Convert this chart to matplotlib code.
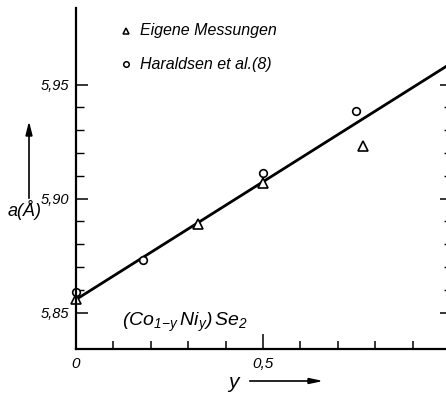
import numpy as np
import matplotlib.pyplot as plt
from matplotlib.ticker import FixedLocator, NullFormatter

# Lattice constant a of (Co1-y Ni y)Se2 against Ni fraction y
y_own = [0.0, 0.326, 0.50, 0.767]
a_own = [5.856, 5.889, 5.907, 5.923]

y_har = [0.0, 0.179, 0.50, 0.749]
a_har = [5.859, 5.873, 5.911, 5.9385]

# fitted straight line (end points)
y_fit = [0.0, 1.0]
a_fit = [5.8557, 5.959]

y_major = [0.0, 0.5]
y_major_labels = ['0', '0,5']
y_minor = [0.1, 0.2, 0.3, 0.4, 0.6, 0.7, 0.8, 0.9]
a_major = [5.85, 5.90, 5.95]
a_major_labels = ['5,85', '5,90', '5,95']
a_minor = [5.86, 5.87, 5.88, 5.89, 5.91, 5.92, 5.93, 5.94]

fam = ['Liberation Sans', 'DejaVu Sans']
plt.rcParams['font.family'] = fam
plt.rcParams['font.style'] = 'italic'
plt.rcParams['mathtext.fontset'] = 'custom'
plt.rcParams['mathtext.it'] = 'Liberation Sans:italic'
plt.rcParams['mathtext.rm'] = 'Liberation Sans:italic'

fig = plt.figure(figsize=(4.46, 3.93), dpi=100)
ax = fig.add_axes([76 / 446, 44 / 393, 372 / 446, 341 / 393])
ax.set_xlim(0, 372 / 374)
ax.set_ylim(5.834, 5.834 + 341 / 2280)

ax.plot(y_fit, a_fit, color='black', lw=2.0, clip_on=True)
ax.plot(y_own, a_own, ls='none', marker='^', ms=7, mfc='white', mec='black', mew=1.2, clip_on=False)
ax.plot(y_har, a_har, ls='none', marker='o', ms=5.5, mfc='white', mec='black', mew=1.2, clip_on=False)

for side in ['top', 'right']:
    ax.spines[side].set_visible(False)
for side in ['left', 'bottom']:
    ax.spines[side].set_linewidth(1.6)

# x axis ticks point inward (up)
ax.xaxis.set_major_locator(FixedLocator(y_major))
ax.xaxis.set_minor_locator(FixedLocator(y_minor))
ax.set_xticklabels(y_major_labels, fontsize=11)
ax.tick_params(axis='x', which='major', direction='in', length=11, width=1.1, pad=6)
ax.tick_params(axis='x', which='minor', direction='in', length=6, width=1.1)

ax.yaxis.set_major_locator(FixedLocator(a_major))
ax.yaxis.set_minor_locator(FixedLocator(a_minor))
ax.set_yticklabels(a_major_labels, fontsize=10.5)
ax.tick_params(axis='y', which='major', direction='in', length=8.5, width=1.1, pad=5,
               right=True)
ax.tick_params(axis='y', which='minor', direction='in', length=6, width=1.0,
               right=True)
ax.yaxis.set_minor_formatter(NullFormatter())

# shorter ticks on the right edge
for t in ax.yaxis.get_major_ticks():
    t.tick2line.set_markersize(6)
for t in ax.yaxis.get_minor_ticks():
    t.tick2line.set_markersize(3)

# legend drawn by hand
ax.plot([0.135], [5.9735], ls='none', marker='^', ms=5, mfc='white', mec='black', mew=1.1)
ax.plot([0.135], [5.9590], ls='none', marker='o', ms=4, mfc='white', mec='black', mew=1.1)
ax.text(0.17, 5.9735, 'Eigene Messungen', fontsize=11.5, va='center', ha='left')
ax.text(0.17, 5.9590, 'Haraldsen et al.(8)', fontsize=11.5, va='center', ha='left')

ax.text(0.123, 5.8455, r'$(Co_{1\!-\!y}\,Ni_{y})\,Se_{2}$', fontsize=14, va='center', ha='left')

# axis labels with arrows
fig.text(8 / 446, 1 - 210 / 393, 'a(Å)', fontsize=13, va='center', ha='left')
fig.add_artist(plt.Line2D([29 / 446, 29 / 446], [1 - 198 / 393, 1 - 132 / 393],
                          color='black', lw=1.2))
fig.add_artist(plt.Polygon([[29 / 446, 1 - 124 / 393], [26 / 446, 1 - 136 / 393],
                            [32 / 446, 1 - 136 / 393]], closed=True, color='black'))

fig.text(233 / 446, 1 - 383 / 393, 'y', fontsize=15, va='center', ha='center')
fig.add_artist(plt.Line2D([250 / 446, 312 / 446], [1 - 381 / 393, 1 - 381 / 393],
                          color='black', lw=1.2))
fig.add_artist(plt.Polygon([[320 / 446, 1 - 381 / 393], [308 / 446, 1 - 378.5 / 393],
                            [308 / 446, 1 - 383.5 / 393]], closed=True, color='black'))

fig.savefig('out.png', dpi=100)
